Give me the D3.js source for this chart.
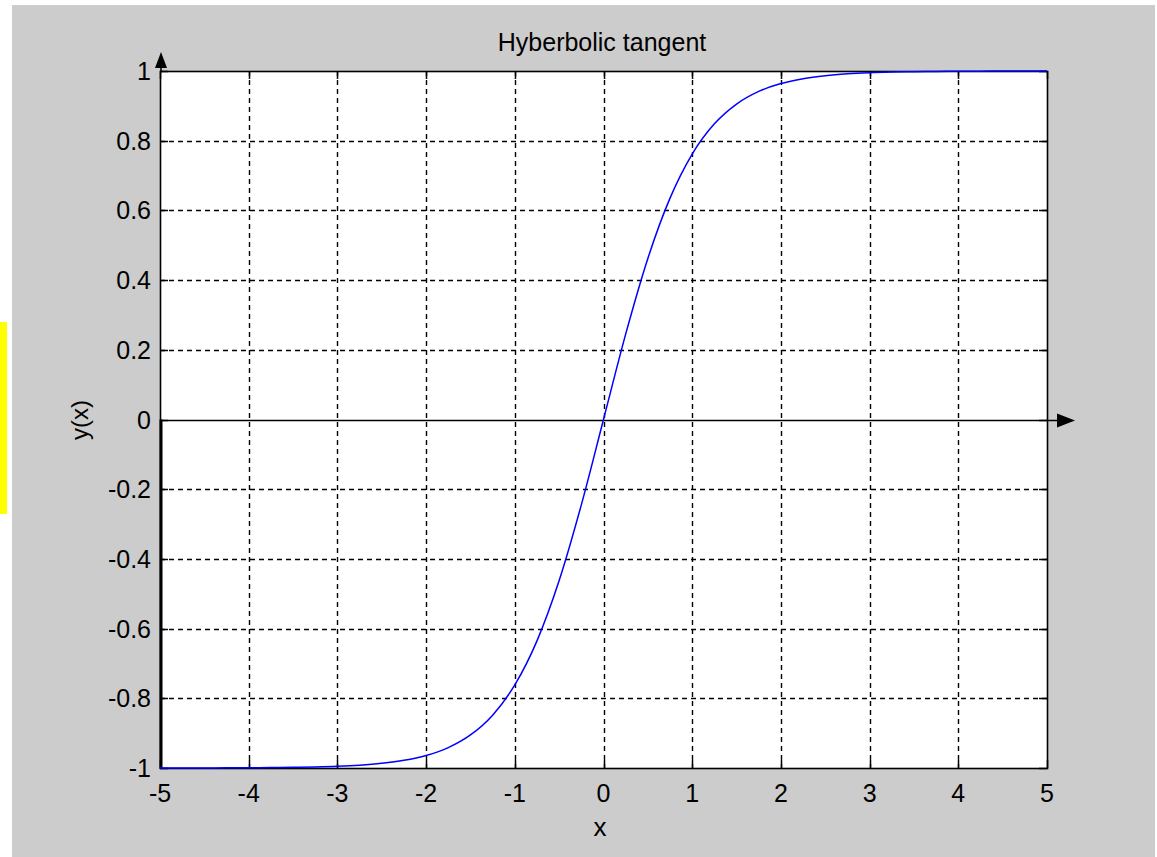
<!DOCTYPE html>
<html><head><meta charset="utf-8">
<script src="https://cdn.jsdelivr.net/npm/d3@7/dist/d3.min.js"></script>
<style>
html,body{margin:0;padding:0;background:#fff;}
svg{display:block;}
text{font-family:"Liberation Sans",Arial,sans-serif;fill:#000;}
</style></head>
<body>
<svg id="chart" width="1157" height="857"></svg>
<script>
const title = "Hyberbolic tangent";
const xLabel = "x";
const yLabel = "y(x)";
const xTicks = [-5,-4,-3,-2,-1,0,1,2,3,4,5];
const yTicks = [-1,-0.8,-0.6,-0.4,-0.2,0,0.2,0.4,0.6,0.8,1];
const xValues = [-5,-4.75,-4.5,-4.25,-4,-3.75,-3.5,-3.25,-3,-2.75,-2.5,-2.25,-2,-1.75,-1.5,-1.25,-1,-0.75,-0.5,-0.25,0,
  0.25,0.5,0.75,1,1.25,1.5,1.75,2,2.25,2.5,2.75,3,3.25,3.5,3.75,4,4.25,4.5,4.75,5];
const yValues = [-0.9999,-0.9999,-0.9998,-0.9996,-0.9993,-0.9989,-0.9982,-0.9970,-0.9951,-0.9919,-0.9866,-0.9780,-0.9640,-0.9414,-0.9051,-0.8483,-0.7616,-0.6351,-0.4621,-0.2449,0,
  0.2449,0.4621,0.6351,0.7616,0.8483,0.9051,0.9414,0.9640,0.9780,0.9866,0.9919,0.9951,0.9970,0.9982,0.9989,0.9993,0.9996,0.9998,0.9999,0.9999];

const svg = d3.select("#chart");
// background
svg.append("rect").attr("x",12).attr("y",5).attr("width",1143).attr("height",852).attr("fill","#cccccc");
svg.append("rect").attr("x",0).attr("y",322).attr("width",7).attr("height",192).attr("fill","#ffff00");

const L=160, R=1047, T=71, B=768;
const x = d3.scaleLinear().domain([-5,5]).range([L,R]);
const y = d3.scaleLinear().domain([-1,1]).range([B,T]);

svg.append("rect").attr("x",L).attr("y",T).attr("width",R-L).attr("height",B-T).attr("fill","#fff");

// grid
const g = svg.append("g");
g.selectAll("line.gx").data(xTicks.slice(1,-1)).join("line")
  .attr("x1",d=>Math.round(x(d))+0.5).attr("x2",d=>Math.round(x(d))+0.5).attr("y1",T).attr("y2",B)
  .attr("stroke","#000").attr("stroke-width",1.4).attr("stroke-dasharray","5,4");
g.selectAll("line.gy").data(yTicks.slice(1,-1).filter(d=>d!==0)).join("line")
  .attr("y1",d=>Math.round(y(d))+0.5).attr("y2",d=>Math.round(y(d))+0.5).attr("x1",L).attr("x2",R)
  .attr("stroke","#000").attr("stroke-width",1.4).attr("stroke-dasharray","5,4");

// ticks (inside, both sides)
const tl = 8;
svg.append("g").selectAll("line").data(xTicks).join("line")
  .attr("x1",d=>Math.round(x(d))+0.5).attr("x2",d=>Math.round(x(d))+0.5).attr("y1",B).attr("y2",B-tl)
  .attr("stroke","#000").attr("stroke-width",1.5);
svg.append("g").selectAll("line").data(xTicks).join("line")
  .attr("x1",d=>Math.round(x(d))+0.5).attr("x2",d=>Math.round(x(d))+0.5).attr("y1",T).attr("y2",T+tl)
  .attr("stroke","#000").attr("stroke-width",1.5);
svg.append("g").selectAll("line").data(yTicks).join("line")
  .attr("y1",d=>Math.round(y(d))+0.5).attr("y2",d=>Math.round(y(d))+0.5).attr("x1",L).attr("x2",L+tl)
  .attr("stroke","#000").attr("stroke-width",1.5);
svg.append("g").selectAll("line").data(yTicks).join("line")
  .attr("y1",d=>Math.round(y(d))+0.5).attr("y2",d=>Math.round(y(d))+0.5).attr("x1",R).attr("x2",R-tl)
  .attr("stroke","#000").attr("stroke-width",1.5);

// frame
svg.append("rect").attr("x",L+0.5).attr("y",T+0.5).attr("width",R-L).attr("height",B-T)
  .attr("fill","none").attr("stroke","#000").attr("stroke-width",1.6);

// zero axes line with arrow
const y0 = Math.round(y(0))+0.5;
svg.append("line").attr("x1",L).attr("x2",1060).attr("y1",y0).attr("y2",y0).attr("stroke","#000").attr("stroke-width",1.6);
svg.append("path").attr("d",`M1057,${y0-7}L1075,${y0}L1057,${y0+7}Z`).attr("fill","#000");
// y axis arrow
svg.append("path").attr("d",`M${L+1-6},68L${L+1},52L${L+1+6},68Z`).attr("fill","#000");
svg.append("line").attr("x1",L+1).attr("x2",L+1).attr("y1",60).attr("y2",T).attr("stroke","#000").attr("stroke-width",1.6);
// thick lower y axis segment
svg.append("line").attr("x1",L+1).attr("x2",L+1).attr("y1",y(0)).attr("y2",y(-1)+1).attr("stroke","#000").attr("stroke-width",3);

// curve
const pts = xValues.map((v,i)=>[v,yValues[i]]);
svg.append("path").datum(pts)
  .attr("d",d3.line().x(d=>x(d[0])).y(d=>y(d[1])).curve(d3.curveMonotoneX))
  .attr("fill","none").attr("stroke","#0000ff").attr("stroke-width",1.5);

// tick labels
const fs = 25;
svg.append("g").selectAll("text").data(xTicks).join("text")
  .attr("x",d=>x(d)).attr("y",802).attr("text-anchor","middle").attr("font-size",fs)
  .text(d=>String(d));
svg.append("g").selectAll("text").data(yTicks).join("text")
  .attr("x",151).attr("y",d=>y(d)+9).attr("text-anchor","end").attr("font-size",fs)
  .text(d=>String(d));

svg.append("text").attr("x",602).attr("y",51).attr("text-anchor","middle").attr("font-size",25).text(title);
svg.append("text").attr("x",600).attr("y",836).attr("text-anchor","middle").attr("font-size",26).text(xLabel);
svg.append("text").attr("transform","translate(88,420) rotate(-90)").attr("text-anchor","middle").attr("font-size",24).text(yLabel);
</script>
</body></html>
